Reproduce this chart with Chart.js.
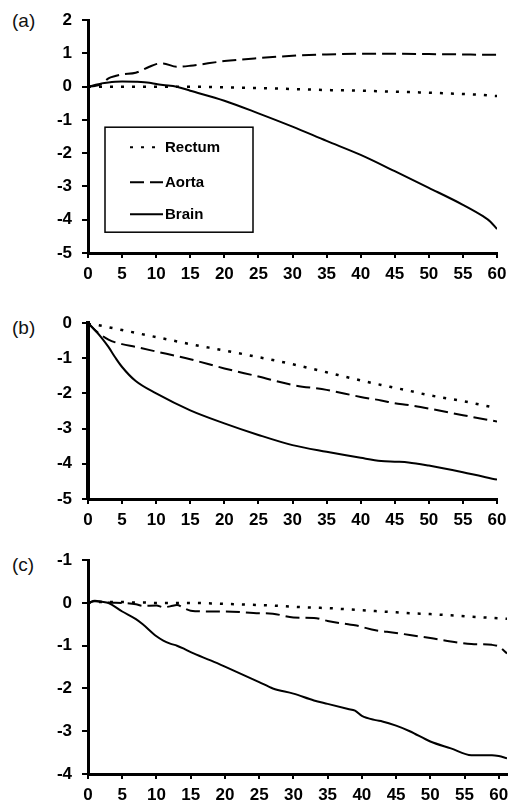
<!DOCTYPE html>
<html lang="en">
<head>
  <meta charset="UTF-8">
  <title>Rectum, Aorta and Brain temperature</title>
  <script src="https://cdn.jsdelivr.net/npm/chart.js"></script>
  <style>
    body { margin: 0; background: #fff; font-family: 'Liberation Sans', Arial, sans-serif; }
    .wrap { position: relative; width: 517px; height: 806px; }
    canvas { position: absolute; left: 0; }
    .tag { position: absolute; left: 12px; font-size: 19px; color: #111; line-height: 1; }
  </style>
</head>
<body>
  <div class="wrap">
    <div class="tag" style="top: 11px;">(a)</div>
    <div class="tag" style="top: 318px;">(b)</div>
    <div class="tag" style="top: 555px;">(c)</div>
    <canvas id="chart-a" width="517" height="290" style="top: 0px;"></canvas>
    <canvas id="chart-b" width="517" height="250" style="top: 290px;"></canvas>
    <canvas id="chart-c" width="517" height="266" style="top: 540px;"></canvas>
  </div>

  <script>
    // panel (a)
    const minutesA = [0, 1, 2, 3, 4, 5, 7, 9, 10, 11, 13, 15, 20, 25, 30, 35, 40, 45, 50, 55, 58, 59, 60];
    const rectumA = [0, 0, 0, 0, 0, 0, 0, 0, 0, 0, 0, 0, -0.02, -0.04, -0.07, -0.1, -0.12, -0.15, -0.18, -0.22, -0.25, -0.27, -0.28];
    const aortaA = [0, 0.02, 0.08, 0.25, 0.32, 0.37, 0.42, 0.6, 0.68, 0.7, 0.6, 0.63, 0.77, 0.86, 0.93, 0.97, 0.99, 0.99, 0.98, 0.97, 0.96, 0.96, 0.96];
    const brainA = [0, 0.05, 0.1, 0.13, 0.15, 0.16, 0.15, 0.12, 0.08, 0.05, 0, -0.12, -0.42, -0.8, -1.2, -1.63, -2.05, -2.54, -3.04, -3.55, -3.9, -4.05, -4.28];

    // panel (b)
    const minutesB = [0, 1, 2, 3, 4, 5, 7, 10, 15, 20, 25, 30, 35, 40, 43, 45, 47, 50, 55, 60];
    const rectumB = [0, -0.04, -0.08, -0.12, -0.16, -0.2, -0.28, -0.4, -0.6, -0.78, -0.97, -1.17, -1.4, -1.63, -1.76, -1.84, -1.92, -2.05, -2.22, -2.42];
    const aortaB = [0, -0.2, -0.35, -0.47, -0.55, -0.6, -0.68, -0.81, -1.03, -1.29, -1.52, -1.76, -1.9, -2.1, -2.2, -2.28, -2.33, -2.43, -2.62, -2.8];
    const brainB = [0, -0.2, -0.42, -0.68, -0.98, -1.25, -1.65, -2.0, -2.48, -2.85, -3.18, -3.47, -3.66, -3.83, -3.92, -3.94, -3.96, -4.05, -4.24, -4.45];

    // panel (c)
    const minutesC = [0, 1, 2, 3, 5, 7, 8, 10, 11, 12, 13, 14, 15, 18, 20, 25, 27, 30, 33, 35, 38, 39, 40, 42, 43, 45, 47, 50, 53, 56, 59, 60, 61.2];
    const rectumC = [0, 0.02, 0.02, 0.02, 0.02, 0.01, 0.01, 0, 0, 0, 0, 0, 0, -0.01, -0.02, -0.05, -0.06, -0.09, -0.11, -0.12, -0.15, -0.16, -0.17, -0.19, -0.2, -0.22, -0.24, -0.26, -0.29, -0.32, -0.35, -0.36, -0.37];
    const aortaC = [0, 0.04, 0.03, 0.01, 0, -0.03, -0.07, -0.06, -0.1, -0.08, -0.05, -0.12, -0.18, -0.2, -0.2, -0.24, -0.25, -0.34, -0.35, -0.42, -0.5, -0.52, -0.56, -0.64, -0.66, -0.7, -0.75, -0.82, -0.9, -0.96, -0.98, -1.02, -1.18];
    const brainC = [0, 0.05, 0.03, 0, -0.2, -0.38, -0.5, -0.78, -0.88, -0.95, -1.0, -1.07, -1.15, -1.35, -1.49, -1.85, -2.0, -2.12, -2.28, -2.36, -2.48, -2.52, -2.64, -2.74, -2.77, -2.87, -3.0, -3.24, -3.4, -3.56, -3.56, -3.58, -3.63];
    // the original figure prints "-1" on the top tick of panel (c)
    const yTicksC = [-4, -3, -2, -1, 0, 1];
    const yLabelsC = ['-4', '-3', '-2', '-1', '0', '-1'];

    const seriesNames = ['Rectum', 'Aorta', 'Brain'];
    const dashes = [[3, 8], [14, 6], []];

    Chart.defaults.font.family = "'Liberation Sans', Arial, sans-serif";
    Chart.defaults.font.size = 17;
    Chart.defaults.font.weight = 'bold';
    Chart.defaults.color = '#000';

    function pts(xs, ys) {
      return xs.map((x, i) => ({ x: x, y: ys[i] }));
    }

    // legend box drawn inside panel (a)
    const boxLegend = {
      id: 'boxLegend',
      afterDatasetsDraw(chart) {
        const ctx = chart.ctx;
        const a = chart.chartArea;
        const left = a.left + 17, top = a.top + 107;
        ctx.save();
        ctx.lineWidth = 1.5;
        ctx.strokeStyle = '#000';
        ctx.strokeRect(left, top, 148, 105);
        const rows = [20, 55, 87];
        ctx.font = "bold 15px 'Liberation Sans', Arial, sans-serif";
        ctx.textBaseline = 'middle';
        ctx.fillStyle = '#000';
        chart.data.datasets.forEach((ds, i) => {
          const y = top + rows[i];
          ctx.beginPath();
          ctx.setLineDash(ds.borderDash);
          ctx.lineWidth = 2;
          ctx.moveTo(left + 25, y);
          ctx.lineTo(left + 58, y);
          ctx.stroke();
          ctx.setLineDash([]);
          ctx.fillText(ds.label, left + 60, y + 1);
        });
        ctx.restore();
      }
    };

    function makeChart(id, xs, values, yMin, yMax, xMax, pad, yAxisWidth, withLegend, yLabel) {
      return new Chart(document.getElementById(id), {
        type: 'line',
        data: {
          datasets: values.map((v, i) => ({
            label: seriesNames[i],
            data: pts(xs, v),
            borderColor: '#000',
            borderWidth: i === 0 ? 2.5 : 2,
            borderDash: dashes[i],
            pointRadius: 0,
            fill: false,
            cubicInterpolationMode: 'monotone'
          }))
        },
        options: {
          responsive: false,
          animation: false,
          layout: { padding: pad },
          plugins: { legend: { display: false }, tooltip: { enabled: false } },
          scales: {
            x: {
              type: 'linear',
              min: 0,
              max: xMax,
              afterFit: s => { s.height = 30; },
              ticks: { stepSize: 5, padding: 6, includeBounds: false, maxRotation: 0 },
              grid: { drawOnChartArea: false, drawTicks: true, tickLength: 5, color: '#000', lineWidth: 2 },
              border: { display: true, color: '#000', width: 3 }
            },
            y: {
              min: yMin,
              max: yMax,
              afterFit: s => { s.width = 50; },
              ticks: { stepSize: 1, padding: 10, callback: yLabel || (v => String(v)) },
              grid: { drawOnChartArea: false, drawTicks: true, tickLength: 6, color: '#000', lineWidth: 2 },
              border: { display: true, color: '#000', width: yAxisWidth }
            }
          }
        },
        plugins: withLegend ? [boxLegend] : []
      });
    }

    makeChart('chart-a', minutesA, [rectumA, aortaA, brainA], -5, 2, 60,
      { top: 19, left: 38, right: 20, bottom: 7 }, 3, true);
    makeChart('chart-b', minutesB, [rectumB, aortaB, brainB], -5, 0, 60,
      { top: 33, left: 38, right: 20, bottom: 11 }, 4, false);
    makeChart('chart-c', minutesC, [rectumC, aortaC, brainC], -4, 1, 61.2,
      { top: 16, left: 38, right: 10, bottom: 2 }, 3, false,
      v => yLabelsC[yTicksC.indexOf(v)]);
  </script>
</body>
</html>
